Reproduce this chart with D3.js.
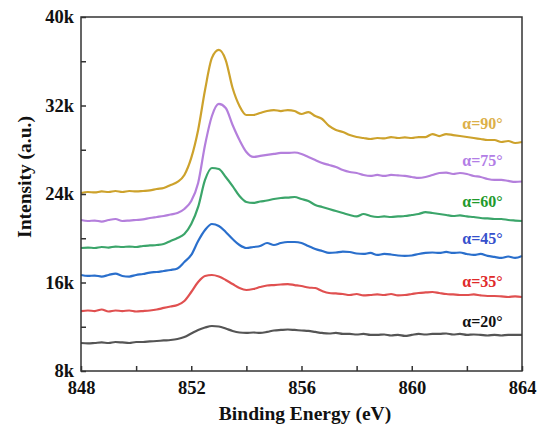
<!DOCTYPE html>
<html>
<head>
<meta charset="utf-8">
<script src="https://cdn.jsdelivr.net/npm/d3@7"></script>
<style>
  body { margin: 0; background: #fff; }
  svg text { font-family: "Liberation Serif", "Times New Roman", "DejaVu Serif", serif !important; font-weight: bold; }
</style>
</head>
<body>
<svg id="chart"></svg>
<script>
// binding energy grid (eV), 0.25 eV step
var energy = d3.range(0, 65).map(function(i){ return 848 + i * 0.25; });

var a20 = [10530,10490,10530,10580,10530,10620,10580,10530,10620,10620,10670,10710,10760,10800,10890,11070,
  11390,11710,11930,12070,12020,11840,11620,11480,11440,11480,11440,11530,11660,11710,11750,11710,
  11660,11620,11530,11440,11390,11440,11350,11350,11300,11350,11260,11260,11300,11210,11260,11170,
  11260,11350,11300,11350,11350,11390,11300,11350,11260,11300,11260,11210,11260,11210,11260,11260,11260];
var a35 = [13420,13470,13420,13560,13380,13470,13420,13470,13380,13420,13470,13560,13700,13830,13970,14330,
  15140,16050,16590,16680,16540,16230,15860,15500,15320,15410,15590,15730,15770,15820,15860,15770,
  15680,15550,15500,15230,15050,15010,14960,14870,14960,14830,14870,14920,14870,14960,14830,14870,
  14960,15050,15100,15140,15050,14960,14920,14870,14870,14920,14830,14780,14780,14740,14690,14740,14690];
var a45 = [16680,16590,16630,16540,16680,16810,16590,16540,16680,16770,16900,16950,17040,17130,17270,17850,
  18490,19750,20750,21290,21110,20570,19930,19390,19120,19210,19300,19570,19390,19570,19660,19660,
  19570,19300,19030,18850,18670,18710,18800,18760,18620,18580,18670,18490,18580,18530,18440,18400,
  18440,18580,18670,18710,18670,18760,18670,18710,18580,18490,18580,18400,18310,18220,18350,18220,18400];
var a60 = [19120,19160,19120,19210,19160,19250,19210,19250,19210,19300,19350,19390,19480,19750,20020,20390,
  21290,22830,25270,26350,26260,25540,24720,23820,23280,23190,23320,23410,23550,23640,23680,23730,
  23550,23370,23010,22830,22640,22460,22280,22100,21970,22190,22010,21920,21970,21920,21970,22010,
  22100,22190,22370,22280,22190,22100,22010,22060,21970,21920,21830,21790,21740,21740,21650,21600,21560];
var a75 = [21650,21560,21600,21510,21650,21740,21560,21600,21650,21700,21830,21920,22010,22150,22280,22640,
  23370,25000,28430,31050,32140,31780,30240,28880,27800,27350,27440,27530,27620,27710,27710,27750,
  27620,27350,27070,26800,26620,26440,26170,25990,25900,25720,25630,25720,25630,25720,25680,25630,
  25540,25450,25540,25720,25900,25940,25810,25900,25810,25630,25540,25360,25270,25270,25180,25090,25130];
var a90 = [24090,24180,24140,24230,24180,24270,24180,24270,24230,24270,24320,24450,24540,24810,25090,25720,
  27260,29790,33400,36300,37020,36110,33580,31960,31140,31140,31320,31500,31590,31500,31590,31500,
  31230,31410,31050,30780,30150,29790,29610,29330,29150,29060,28970,29060,29020,29150,29060,29110,
  29060,29150,29150,29420,29240,29420,29330,29240,29150,29060,28970,28880,28880,28700,28790,28610,28700];

var labels = ["α=20°", "α=35°", "α=45°", "α=60°", "α=75°", "α=90°"];
var lineColors = ["#555555", "#e05050", "#2a6fcc", "#3ba56a", "#b47fdc", "#cda22c"];
var labelColors = ["#111111", "#e02a2a", "#3550cc", "#1f9a2c", "#b27ee6", "#dcb048"];
var labelValues = [12470, 16070, 20020, 23300, 27070, 30420];

var xTicks = [848, 852, 856, 860, 864];
var yTicks = [8000, 16000, 24000, 32000, 40000];

var width = 539, height = 427;
var margin = {top: 17, right: 17, bottom: 56, left: 81};
var w = width - margin.left - margin.right;
var h = height - margin.top - margin.bottom;

var svg = d3.select("#chart").attr("width", width).attr("height", height);
var g = svg.append("g").attr("transform", "translate(" + margin.left + "," + margin.top + ")");

var x = d3.scaleLinear().domain([848, 864]).range([0, w]);
var y = d3.scaleLinear().domain([8000, 40000]).range([h, 0]);

var series = [a20, a35, a45, a60, a75, a90];
var line = d3.line()
  .x(function(d, i){ return x(energy[i]); })
  .y(function(d){ return y(d); })
  .curve(d3.curveMonotoneX);

g.selectAll("path.spec").data(series).enter().append("path")
  .attr("class", "spec")
  .attr("fill", "none")
  .attr("stroke", function(d, i){ return lineColors[i]; })
  .attr("stroke-width", 2.2)
  .attr("stroke-linejoin", "round")
  .attr("d", line);

g.selectAll("text.lab").data(labels).enter().append("text")
  .attr("class", "lab")
  .attr("x", x(863.3))
  .attr("y", function(d, i){ return y(labelValues[i]); })
  .attr("text-anchor", "end")
  .attr("dy", "0.35em")
  .attr("font-size", 16)
  .attr("fill", function(d, i){ return labelColors[i]; })
  .text(function(d){ return d; });

// frame + inward ticks
var frameColor = "#333";
var xAxis = d3.axisBottom(x).tickValues(d3.range(848, 864.1, 2))
  .tickSizeInner(-5).tickSizeOuter(0)
  .tickFormat(function(d){ return xTicks.indexOf(d) >= 0 ? d : ""; });
var yAxis = d3.axisLeft(y).tickValues(d3.range(8000, 40001, 4000))
  .tickSizeInner(-5).tickSizeOuter(0)
  .tickFormat(function(d){ return yTicks.indexOf(d) >= 0 ? (d / 1000) + "k" : ""; });

var gx = g.append("g").attr("transform", "translate(0," + h + ")").call(xAxis);
var gy = g.append("g").call(yAxis);
[gx, gy].forEach(function(a){
  a.attr("font-family", null);
  a.select(".domain").remove();
  a.selectAll("line").attr("stroke", frameColor).attr("stroke-width", 1.5);
  a.selectAll("text").attr("fill", "#111").attr("font-size", 18.5);
});
gx.selectAll(".tick text").attr("dy", "1.0em").attr("y", 4);
gy.selectAll(".tick text").attr("x", -7);

g.append("rect").attr("width", w).attr("height", h)
  .attr("fill", "none").attr("stroke", frameColor).attr("stroke-width", 1.5);

svg.append("text")
  .attr("x", 305).attr("y", 420)
  .attr("text-anchor", "middle").attr("font-size", 19.5).attr("fill", "#111")
  .text("Binding Energy (eV)");

svg.append("text")
  .attr("transform", "translate(31,177) rotate(-90)")
  .attr("text-anchor", "middle").attr("font-size", 19.5).attr("fill", "#111")
  .text("Intensity (a.u.)");
</script>
</body>
</html>
